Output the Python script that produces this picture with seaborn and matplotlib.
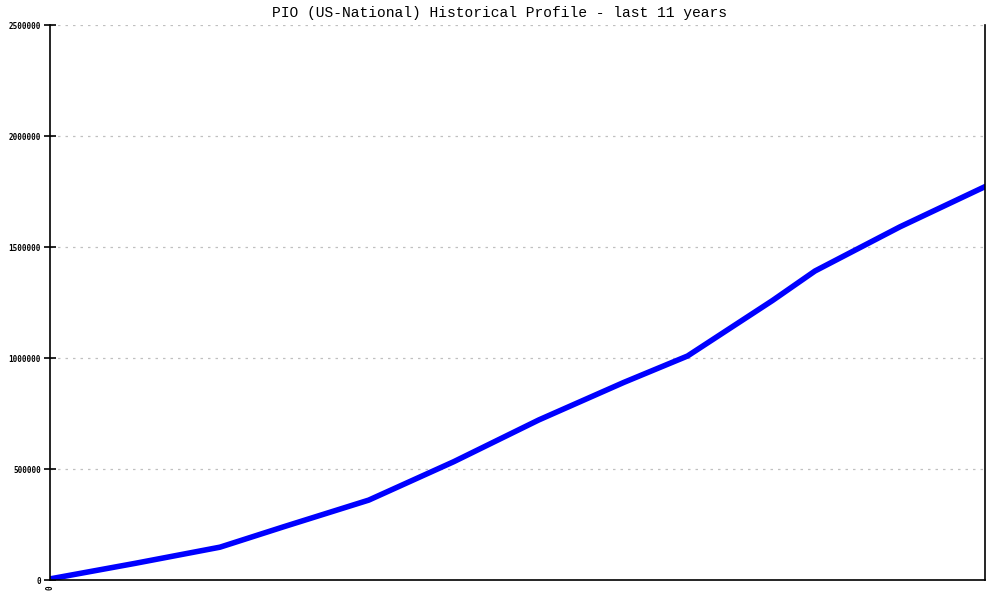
import matplotlib
matplotlib.use("Agg")
import matplotlib.pyplot as plt
import pandas as pd
import seaborn as sns


OUTPUT_PATH = "out.png"

TITLE = "PIO (US-National) Historical Profile - last 11 years"

# quarter index (0 .. 44 over 11 years) and the count
quarters = [0, 4, 8, 11, 15, 19, 23, 27, 30, 34, 36, 40, 44]
counts = [5000, 75000, 148000, 240000, 360000, 533000, 721000,
          890000, 1009000, 1259000, 1392000, 1591000, 1772000]

y_ticks = [0, 500000, 1000000, 1500000, 2000000, 2500000]
x_ticks = [0]
x_tick_labels = ["0"]


def build_frame() -> pd.DataFrame:
    """Put the series in a small table for seaborn."""
    return pd.DataFrame({"quarter": quarters, "count": counts})


def plot_profile(df: pd.DataFrame):
    sns.set_style("white")
    plt.rcParams["font.family"] = ["DejaVu Sans Mono", "DejaVu Sans"]

    fig = plt.figure(figsize=(10, 6), dpi=100)
    ax = fig.add_axes([0.05, 0.0333, 0.935, 0.925])

    sns.lineplot(
        data=df,
        x="quarter",
        y="count",
        color="#0000ff",
        linewidth=4.0,
        ax=ax
    )

    ax.set_xlim(0, 44)
    ax.set_ylim(0, 2500000)
    ax.set_yticks(y_ticks)
    ax.set_yticklabels([str(v) for v in y_ticks], fontsize=5.5,
                       fontweight="bold", color="black")
    ax.set_xticks(x_ticks)
    ax.set_xticklabels(x_tick_labels, rotation=90, fontsize=5.5,
                       fontweight="bold", color="black")
    ax.set_xlabel("")
    ax.set_ylabel("")

    ax.yaxis.grid(True, linestyle=(0, (2, 4)), color="#c0c0c0", linewidth=0.9)
    ax.xaxis.grid(False)

    ax.tick_params(axis="y", left=True, direction="inout", length=9, width=1.2,
                   color="black", pad=2)
    ax.tick_params(axis="x", bottom=False, length=0, pad=4)

    for side in ["left", "bottom", "right"]:
        ax.spines[side].set_visible(True)
        ax.spines[side].set_color("black")
        ax.spines[side].set_linewidth(1.2)
    ax.spines["top"].set_visible(False)

    fig.text(0.5, 0.978, TITLE, ha="center", va="center", color="black",
             fontsize=10.5, family=["Liberation Mono", "DejaVu Sans Mono"])

    fig.savefig(OUTPUT_PATH, dpi=100)
    plt.close(fig)


def main():
    df = build_frame()
    plot_profile(df)


if __name__ == "__main__":
    main()
